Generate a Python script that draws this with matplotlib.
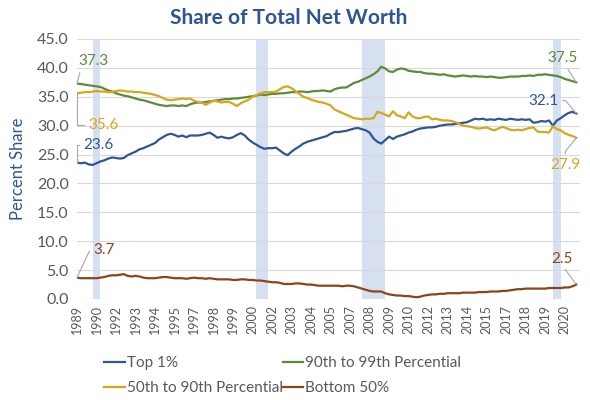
import matplotlib
matplotlib.use("Agg")
import matplotlib.pyplot as plt
import numpy as np

plt.rcParams['font.family'] = ['Lato', 'DejaVu Sans']

# Quarterly, 1989Q3 onward
top1 = [23.6, 23.5, 23.6, 23.3, 23.2, 23.5, 23.8, 24.0, 24.3, 24.5,
        24.4, 24.3, 24.4, 24.9, 25.2, 25.5, 25.9, 26.1, 26.4, 26.7,
        27.0, 27.6, 28.0, 28.4, 28.6, 28.4, 28.1, 28.3, 28.0, 28.3,
        28.3, 28.3, 28.4, 28.6, 28.8, 28.4, 27.9, 28.1, 27.9, 27.8,
        28.0, 28.4, 28.7, 28.3, 27.6, 27.1, 26.7, 26.3, 26.0, 26.1,
        26.1, 26.2, 25.7, 25.2, 24.9, 25.5, 26.0, 26.4, 26.9, 27.2,
        27.4, 27.6, 27.8, 28.0, 28.2, 28.6, 28.9, 28.9, 29.0, 29.1,
        29.3, 29.5, 29.6, 29.4, 29.2, 28.8, 27.8, 27.2, 26.9, 27.5,
        28.1, 27.7, 28.1, 28.3, 28.5, 28.8, 29.0, 29.3, 29.5, 29.6,
        29.7, 29.7, 29.8, 30.0, 30.1, 30.2, 30.2, 30.3, 30.4, 30.5,
        30.6, 30.9, 31.2, 31.1, 31.2, 31.0, 31.1, 31.0, 31.2, 31.1,
        31.0, 31.2, 31.1, 31.0, 31.1, 31.0, 31.1, 30.5, 30.6, 30.8,
        30.7, 30.9, 30.0, 30.9, 31.3, 31.8, 32.2, 32.4, 32.1]

p90_99 = [37.3, 37.2, 37.1, 37.0, 36.9, 36.8, 36.7, 36.4, 36.1, 35.9,
          35.6, 35.4, 35.2, 35.1, 34.9, 34.7, 34.5, 34.4, 34.2, 34.0,
          33.8, 33.6, 33.5, 33.4, 33.5, 33.5, 33.4, 33.5, 33.4, 33.7,
          33.9, 34.0, 34.0, 34.1, 34.2, 34.3, 34.4, 34.5, 34.6, 34.6,
          34.7, 34.7, 34.8, 34.9, 35.0, 35.1, 35.2, 35.4, 35.3, 35.4,
          35.5, 35.5, 35.6, 35.6, 35.7, 35.8, 35.8, 35.9, 35.9, 35.8,
          35.9, 36.0, 36.0, 36.1, 36.0, 35.9, 36.3, 36.5, 36.6, 36.6,
          37.0, 37.4, 37.6, 37.9, 38.2, 38.5, 38.9, 39.4, 40.2, 39.9,
          39.4, 39.3, 39.7, 39.9, 39.8, 39.5, 39.4, 39.3, 39.3, 39.1,
          39.0, 39.0, 38.9, 38.8, 38.9, 38.7, 38.6, 38.5, 38.6, 38.7,
          38.6, 38.5, 38.6, 38.5, 38.5, 38.4, 38.5, 38.4, 38.3, 38.3,
          38.4, 38.5, 38.5, 38.5, 38.6, 38.6, 38.7, 38.6, 38.8, 38.8,
          38.9, 38.8, 38.7, 38.6, 38.4, 38.1, 37.9, 37.7, 37.5]

p50_90 = [35.6, 35.7, 35.8, 35.8, 35.9, 36.0, 35.9, 35.9, 35.8, 35.8,
          36.0, 36.1, 36.0, 35.9, 35.9, 35.8, 35.8, 35.7, 35.6, 35.5,
          35.3, 35.1, 34.8, 34.5, 34.4, 34.5, 34.6, 34.7, 34.6, 34.7,
          34.3, 34.1, 34.0, 33.6, 34.0, 34.3, 34.2, 34.0, 34.1, 34.1,
          33.8, 33.4, 33.9, 34.2, 34.5, 35.0, 35.3, 35.6, 35.8, 35.8,
          35.8, 35.9, 36.3, 36.7, 36.8, 36.5, 36.0, 35.5, 35.0, 34.8,
          34.5, 34.3, 34.1, 34.0, 33.8, 33.5, 32.8, 32.5, 32.2, 31.9,
          31.6, 31.3, 31.2, 31.1, 31.2, 31.2, 31.3, 32.4, 32.2, 31.9,
          31.6, 32.5, 31.8, 31.6, 31.3, 32.3, 31.6, 31.3, 31.3, 31.5,
          31.6, 31.1, 31.2, 31.0, 30.9, 30.9, 30.8, 30.6, 30.3, 30.0,
          29.9, 29.8, 29.6, 29.5, 29.6, 29.7, 29.4, 29.2, 29.5, 29.8,
          29.6, 29.3, 29.2, 29.3, 29.2, 29.4, 29.6, 29.7, 29.0, 28.9,
          28.9, 28.8, 29.9, 29.4, 29.2, 28.7, 28.4, 28.2, 27.9]

bottom50 = [3.7, 3.6, 3.6, 3.6, 3.6, 3.6, 3.7, 3.8, 4.0, 4.1,
            4.1, 4.2, 4.3, 4.0, 3.9, 4.0, 3.9, 3.7, 3.6, 3.6,
            3.6, 3.7, 3.8, 3.8, 3.7, 3.6, 3.6, 3.6, 3.5, 3.6,
            3.7, 3.6, 3.6, 3.5, 3.6, 3.5, 3.4, 3.4, 3.4, 3.4,
            3.3, 3.3, 3.4, 3.4, 3.3, 3.3, 3.2, 3.2, 3.1, 3.0,
            2.9, 2.9, 2.8, 2.6, 2.6, 2.6, 2.7, 2.7, 2.6, 2.5,
            2.5, 2.4, 2.3, 2.3, 2.3, 2.3, 2.3, 2.3, 2.2, 2.3,
            2.3, 2.2, 2.0, 1.8, 1.6, 1.4, 1.3, 1.3, 1.3, 1.0,
            0.8, 0.7, 0.6, 0.6, 0.5, 0.5, 0.4, 0.3, 0.4, 0.6,
            0.7, 0.8, 0.8, 0.9, 0.9, 1.0, 1.0, 1.0, 1.0, 1.1,
            1.1, 1.1, 1.1, 1.2, 1.2, 1.2, 1.3, 1.3, 1.3, 1.4,
            1.4, 1.5, 1.6, 1.7, 1.7, 1.8, 1.8, 1.8, 1.8, 1.8,
            1.8, 1.9, 1.9, 1.9, 1.9, 2.0, 2.0, 2.2, 2.5]

tick_labels = ['1989', '1990', '1992', '1993', '1994', '1995', '1997', '1998',
               '1999', '2000', '2002', '2003', '2004', '2005', '2007', '2008',
               '2009', '2010', '2012', '2013', '2014', '2015', '2017', '2018',
               '2019', '2020']
tick_step = 5  # a label every 5 quarters

# recession periods (quarter index start, end)
recessions = [(4, 6), (46, 49), (73, 79), (122, 124)]

series_names = ['Top 1%', '90th to 99th Percential',
                '50th to 90th Percential', 'Bottom 50%']
colors = ['#2F5597', '#5B8C3A', '#D6A71E', '#8A451A']

x = np.arange(len(top1))

fig = plt.figure(figsize=(5.9, 4.0), dpi=100)
ax = fig.add_axes([0.1305, 0.2525, 0.853, 0.65])

for a, b in recessions:
    ax.axvspan(a, b, color='#D6E0F1', lw=0, zorder=0)

data = [top1, p90_99, p50_90, bottom50]
lines = []
for vals, name, c in zip(data, series_names, colors):
    ln, = ax.plot(x, vals, color=c, lw=1.6, label=name, zorder=3,
                  solid_joinstyle='round')
    lines.append(ln)

ax.set_ylim(0, 45)
ax.set_xlim(0, len(top1))
ax.set_yticks(np.arange(0, 46, 5))
ax.set_yticklabels([f'{v:.1f}' for v in np.arange(0, 46, 5)])
ax.set_xticks(np.arange(len(tick_labels)) * tick_step)
ax.set_xticklabels(tick_labels, rotation=90)
ax.grid(axis='y', color='#D9D9D9', lw=0.8, zorder=1)
ax.set_axisbelow(True)
for s in ax.spines.values():
    s.set_visible(False)
ax.tick_params(axis='y', length=0, labelsize=11.5, colors='#595959', pad=6)
ax.tick_params(axis='x', length=0, labelsize=9, colors='#595959', pad=4)

ax.set_ylabel('Percent Share', color='#2F5597', fontsize=12, labelpad=8)

fig.text(0.49, 0.955, 'Share of Total Net Worth', ha='center', va='center',
         fontsize=15, fontweight='bold', color='#2F5496')

leader = dict(arrowstyle='-', color='#A6A6A6', lw=0.8, shrinkA=1, shrinkB=0)

def label(idx, vals, color, off, ha='center', va='center', conn='arc3', relpos=(0.5, 0.5)):
    ap = dict(leader, connectionstyle=conn, relpos=relpos)
    ax.annotate(f'{vals[idx]:.1f}', xy=(idx, vals[idx]), xytext=off,
                textcoords='offset pixels', ha=ha, va=va, color=color,
                fontsize=11, arrowprops=ap, zorder=5)

first, last = 0, len(top1) - 1
label(first, p90_99, colors[1], (16, 22), relpos=(0.1, 0.0))
label(first, p50_90, colors[2], (11, -32), ha='left',
      conn='angle,angleA=0,angleB=90,rad=0', relpos=(0, 0.5))
label(first, top1, colors[0], (6, 18), ha='left',
      conn='angle,angleA=0,angleB=90,rad=0', relpos=(0, 0.5))
label(first, bottom50, colors[3], (16, 28), ha='left',
      conn='angle,angleA=0,angleB=65,rad=0', relpos=(0, 0.5))
label(last, p90_99, colors[1], (-14, 24), relpos=(0.6, 0.0))
label(last, top1, colors[0], (-33, 13),
      conn='angle,angleA=0,angleB=130,rad=0', relpos=(1, 0.5))
label(last, p50_90, colors[2], (-11, -27),
      conn='angle,angleA=90,angleB=51,rad=0', relpos=(0.5, 1))
label(last, bottom50, colors[3], (-14, 26), relpos=(0.5, 0.0))

order = [0, 2, 1, 3]
leg = fig.legend([lines[i] for i in order], [series_names[i] for i in order],
                 ncol=2, loc='upper left', bbox_to_anchor=(0.177, 0.11),
                 frameon=False, fontsize=11, handlelength=1.35,
                 handletextpad=0.1, columnspacing=0.0, labelspacing=0.75,
                 borderaxespad=0, borderpad=0)
for t in leg.get_texts():
    t.set_color('#595959')

fig.savefig('out.png', dpi=100)
